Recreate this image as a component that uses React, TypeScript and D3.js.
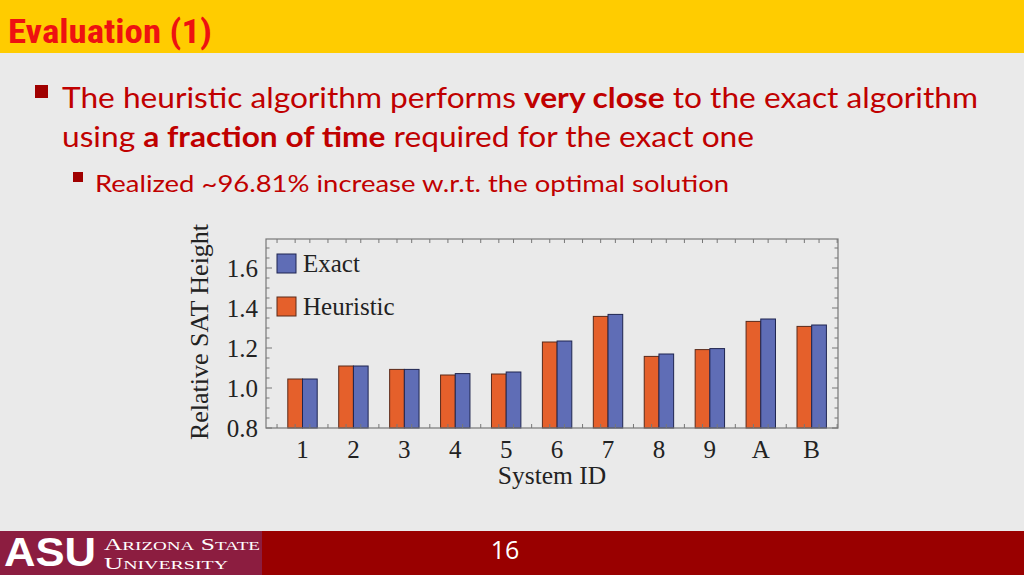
import React from "react";
import * as d3 from "d3";

const categories = ["1", "2", "3", "4", "5", "6", "7", "8", "9", "A", "B"];
const heuristic = [1.045, 1.11, 1.093, 1.065, 1.07, 1.23, 1.358, 1.158, 1.192, 1.333, 1.308];
const exact = [1.045, 1.11, 1.093, 1.072, 1.08, 1.235, 1.368, 1.17, 1.197, 1.345, 1.315];
const yTicks = [0.8, 1.0, 1.2, 1.4, 1.6];
const seriesNames = ["Exact", "Heuristic"];

const ORANGE = "#E5602B";
const BLUE = "#5F6DB6";
const RED = "#C00000";

export default function App() {
  const W = 1024, H = 575;
  const x = d3.scalePoint<string>().domain(categories).range([302.5, 811.7]);
  const step = x.step();
  const y = d3.scaleLinear().domain([0.8, 1.745]).range([428, 239]);
  const left = 266, right = 838, top = 239, bottom = 428;
  const bw = 14.7;

  const minorY = d3.range(0.8, 1.7451, 0.05).map((v) => +v.toFixed(2));
  const xTickPos: number[] = [];
  categories.forEach((c, i) => {
    const cx = x(c)!;
    if (i === 0) xTickPos.push(cx - step / 2);
    xTickPos.push(cx - bw / 2, cx + bw / 2, cx + step / 2);
  });

  const serif = "'Liberation Serif', 'DejaVu Serif', serif";
  const sans = "Lato, 'Open Sans', sans-serif";

  return (
    <svg width={W} height={H} style={{ position: "absolute", left: 0, top: 0 }}>
      <rect x={0} y={0} width={W} height={H} fill="#EAEAEA" />
      <rect x={0} y={0} width={W} height={53} fill="#FFCC00" />
      <text x={8} y={43} fill="#EE1111" fontSize={34} fontWeight="bold"
        fontFamily="'Liberation Sans Narrow', 'Roboto Condensed', Roboto, sans-serif"
        style={{ fontStretch: "condensed" }} textLength={204} lengthAdjust="spacingAndGlyphs">
        Evaluation (1)
      </text>

      {/* bullets */}
      <rect x={35} y={85} width={13} height={13} fill="#A00000" />
      <text x={62} y={108} fill={RED} fontSize={28} fontFamily={sans} textLength={916} lengthAdjust="spacingAndGlyphs">
        The heuristic algorithm performs <tspan fontWeight="bold">very close</tspan> to the exact algorithm
      </text>
      <text x={62} y={147} fill={RED} fontSize={28} fontFamily={sans} textLength={692} lengthAdjust="spacingAndGlyphs">
        using <tspan fontWeight="bold">a fraction of time</tspan> required for the exact one
      </text>
      <rect x={73} y={172} width={10} height={10} fill="#A00000" />
      <text x={95} y={192} fill={RED} fontSize={23} fontFamily={sans} textLength={634} lengthAdjust="spacingAndGlyphs">
        Realized ~96.81% increase w.r.t. the optimal solution
      </text>

      {/* chart */}
      <g>
        {categories.map((c, i) => (
          <g key={c}>
            <rect x={x(c)! - bw} y={y(heuristic[i])} width={bw} height={y(0.8) - y(heuristic[i])}
              fill={ORANGE} stroke="#5a2a1a" strokeWidth={1} />
            <rect x={x(c)!} y={y(exact[i])} width={bw} height={y(0.8) - y(exact[i])}
              fill={BLUE} stroke="#1f2550" strokeWidth={1} />
          </g>
        ))}
        <rect x={left} y={top} width={right - left} height={bottom - top} fill="none" stroke="#777" strokeWidth={1.2} />
        {minorY.map((v) => {
          const major = yTicks.some((t) => Math.abs(t - v) < 1e-6);
          const len = major ? 6 : 3.5;
          return (
            <g key={v}>
              <line x1={left} x2={left + len} y1={y(v)} y2={y(v)} stroke="#777" />
              <line x1={right} x2={right - len} y1={y(v)} y2={y(v)} stroke="#777" />
            </g>
          );
        })}
        {xTickPos.map((p, i) => (
          <g key={i}>
            <line x1={p} x2={p} y1={bottom} y2={bottom - 4} stroke="#777" />
            <line x1={p} x2={p} y1={top} y2={top + 4} stroke="#777" />
          </g>
        ))}
        {yTicks.map((t) => (
          <text key={t} x={258} y={y(t)} dy="0.36em" textAnchor="end" fontSize={25} fontFamily={serif} fill="#222">
            {t.toFixed(1)}
          </text>
        ))}
        {categories.map((c) => (
          <text key={c} x={x(c)!} y={458} textAnchor="middle" fontSize={25} fontFamily={serif} fill="#222">
            {c}
          </text>
        ))}
        <text x={552} y={484} textAnchor="middle" fontSize={25.5} fontFamily={serif} fill="#222">System ID</text>
        <text transform="translate(208,332) rotate(-90)" textAnchor="middle" fontSize={26} fontFamily={serif} fill="#222">
          Relative SAT Height
        </text>
        {/* legend */}
        {seriesNames.map((s, i) => (
          <g key={s}>
            <rect x={277} y={254 + i * 43} width={19} height={19} fill={i === 0 ? BLUE : ORANGE}
              stroke={i === 0 ? "#1f2550" : "#5a2a1a"} />
            <text x={303} y={272 + i * 43} fontSize={25} fontFamily={serif} fill="#222">{s}</text>
          </g>
        ))}
      </g>

      {/* footer */}
      <rect x={0} y={531} width={W} height={44} fill="#990000" />
      <rect x={0} y={531} width={262} height={44} fill="#8C1D40" />
      <text x={4} y={566} fill="#fff" fontSize={40} fontWeight="bold" fontFamily="'Liberation Sans', Arial, sans-serif"
        textLength={92} lengthAdjust="spacingAndGlyphs">ASU</text>
      <text x={104} y={550} fill="#fff" fontSize={16} fontFamily={serif} textLength={156} lengthAdjust="spacingAndGlyphs">
        A<tspan fontSize={12}>RIZONA</tspan> S<tspan fontSize={12}>TATE</tspan>
      </text>
      <text x={104} y={569} fill="#fff" fontSize={16} fontFamily={serif} textLength={124} lengthAdjust="spacingAndGlyphs">
        U<tspan fontSize={12}>NIVERSITY</tspan>
      </text>
      <text x={505} y={559} fill="#fff" fontSize={25} textAnchor="middle" fontFamily="'Open Sans', sans-serif">16</text>
    </svg>
  );
}
